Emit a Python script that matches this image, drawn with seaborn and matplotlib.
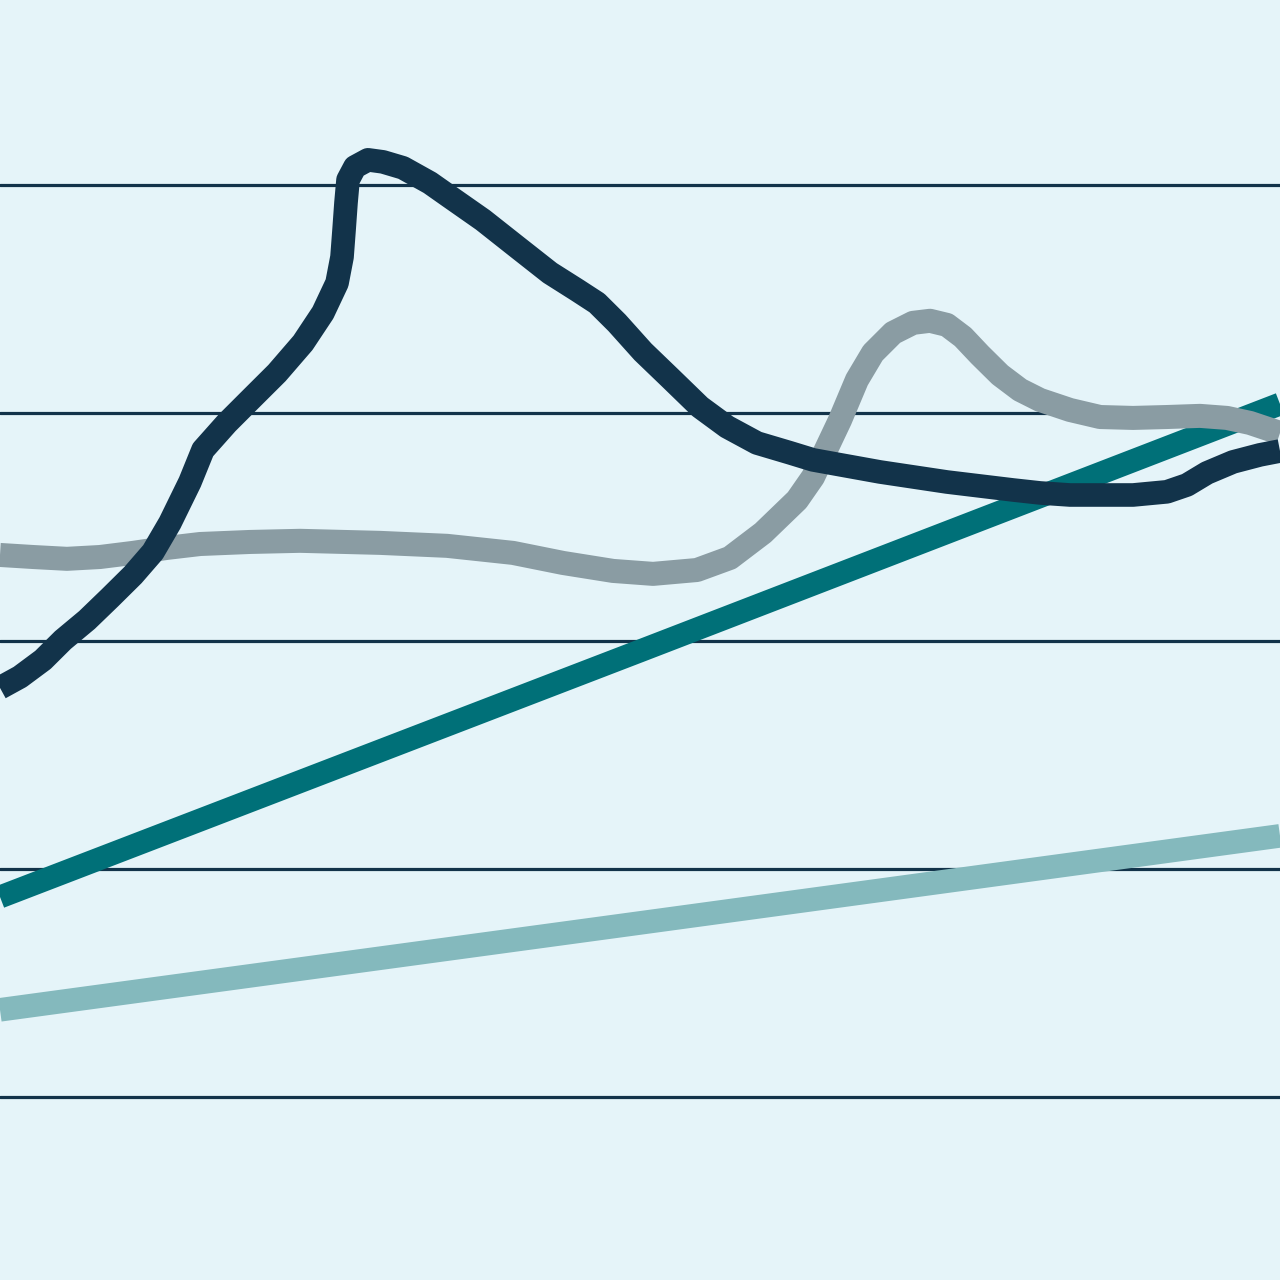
import matplotlib
matplotlib.use("Agg")
import matplotlib.pyplot as plt
import seaborn as sns

# ---- data ----
dark_x = [0, 1.56, 3.36, 4.92, 6.80, 8.59, 10.39, 11.95, 13.28, 14.84, 15.86, 17.73, 19.53,
          21.64, 23.67, 25.23, 26.33, 26.72, 26.88, 27.03, 27.19, 27.73, 28.75, 29.92, 31.48,
          33.59, 35.16, 37.73, 40.39, 42.97, 45.08, 46.64, 48.20, 50.23, 52.34, 54.69, 56.80,
          59.14, 61.72, 63.52, 68.75, 73.98, 79.14, 81.25, 83.59, 85.94, 88.52, 91.17, 92.73,
          94.30, 96.33, 98.44, 100]
dark_y = [17.94, 18.42, 19.17, 20.04, 20.92, 21.89, 22.89, 23.90, 25.18, 26.97, 28.38, 29.56,
          30.57, 31.75, 33.07, 34.39, 35.70, 36.84, 38.03, 39.21, 40.22, 40.79, 41.10, 41.01,
          40.75, 40.09, 39.47, 38.46, 37.28, 36.14, 35.39, 34.82, 33.95, 32.68, 31.54, 30.26,
          29.39, 28.68, 28.25, 27.94, 27.41, 26.97, 26.62, 26.49, 26.40, 26.40, 26.40, 26.54,
          26.84, 27.37, 27.85, 28.16, 28.33]

grey_x = [0, 2.58, 5.23, 7.81, 10.39, 13.05, 15.63, 19.53, 23.44, 29.69, 34.92, 40.08, 43.98,
          47.89, 51.02, 54.45, 57.03, 59.61, 62.27, 63.52, 65.63, 66.95, 68.20, 69.77, 71.33,
          72.66, 73.98, 75.23, 76.56, 78.13, 79.69, 81.25, 83.59, 85.94, 88.52, 91.17, 93.75,
          95.86, 97.66, 100]
grey_y = [23.77, 23.68, 23.60, 23.68, 23.86, 24.08, 24.25, 24.34, 24.39, 24.30, 24.17, 23.86,
          23.42, 23.07, 22.94, 23.11, 23.64, 24.74, 26.18, 27.19, 29.69, 31.45, 32.63, 33.51,
          33.95, 34.04, 33.86, 33.33, 32.54, 31.67, 31.01, 30.57, 30.13, 29.82, 29.78, 29.82,
          29.87, 29.78, 29.56, 29.12]

teal_x = [0, 50, 100]
teal_y = [8.77, 19.56, 30.39]

light_x = [0, 50, 100]
light_y = [3.82, 7.63, 11.45]

grid_values = [0, 10, 20, 30, 40]

# ---- style ----
BG = "#E5F4F9"
NAVY = "#12334A"
GREY = "#8A9CA3"
TEAL = "#007078"
LIGHT = "#84B9BD"

sns.set_theme(style="white")
fig = plt.figure(figsize=(12.8, 12.8), dpi=100)
fig.patch.set_facecolor(BG)
ax = fig.add_axes([0, 0, 1, 1])
ax.set_facecolor(BG)

for g in grid_values:
    ax.axhline(g, color=NAVY, linewidth=2.3, zorder=1)

series = [
    (light_x, light_y, LIGHT, 17.0),
    (teal_x, teal_y, TEAL, 16.5),
    (grey_x, grey_y, GREY, 17.3),
    (dark_x, dark_y, NAVY, 17.0),
]
for xs, ys, col, lw in series:
    n_before = len(ax.lines)
    sns.lineplot(x=xs, y=ys, ax=ax, color=col, linewidth=lw, sort=False,
                 estimator=None, legend=False)
    for ln in ax.lines[n_before:]:
        ln.set_solid_joinstyle("round")
        ln.set_solid_capstyle("butt")
        ln.set_zorder(3)

ax.set_xlim(0, 100)
ax.set_ylim(-8.03, 48.11)
ax.set_xticks([])
ax.set_yticks([])
for s in ax.spines.values():
    s.set_visible(False)
ax.set_xlabel("")
ax.set_ylabel("")

fig.savefig("out.png", dpi=100, facecolor=BG)
